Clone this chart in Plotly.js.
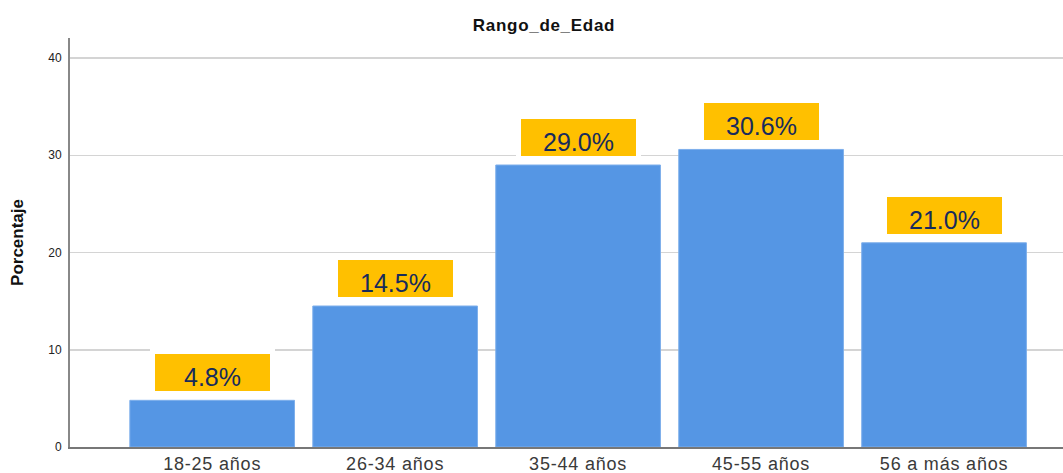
<!DOCTYPE html>
<html>
<head>
<meta charset="utf-8">
<script src="https://cdn.plot.ly/plotly-3.0.1.min.js"></script>
<style>
html,body{margin:0;padding:0;background:#fff;}
#chart{width:1063px;height:473px;}
#chart .gtitle{letter-spacing:0.7px;}
#chart .xtick text{letter-spacing:0.8px;}
</style>
</head>
<body>
<div id="chart"></div>
<script>
const categories = ["18-25 años", "26-34 años", "35-44 años", "45-55 años", "56 a más años"];
const percentages = [4.8, 14.5, 29.0, 30.6, 21.0];
const labels = ["4.8%", "14.5%", "29.0%", "30.6%", "21.0%"];
const yTicks = [0, 10, 20, 30, 40];

const trace = {
  type: "bar",
  x: categories,
  y: percentages,
  marker: { color: "#5596E4", line: { color: "#7EAFEB", width: 1 } },
  hoverinfo: "none"
};

const annotations = categories.map((c, i) => ({
  x: c, y: percentages[i], xref: "x", yref: "y",
  text: labels[i], showarrow: false,
  yanchor: "bottom", yshift: 4,
  width: 115, height: 37, valign: "bottom",
  bgcolor: "#FFC000", bordercolor: "#FFFFFF", borderwidth: 5, borderpad: 0,
  font: { family: "Liberation Sans, Arial, sans-serif", size: 25, color: "#172B5C" }
}));

const layout = {
  width: 1063, height: 473,
  margin: { l: 70, r: 0, t: 38, b: 26 },
  paper_bgcolor: "#FFFFFF", plot_bgcolor: "#FFFFFF",
  bargap: 0.1,
  showlegend: false,
  title: {
    text: "<b>Rango_de_Edad</b>",
    font: { family: "Liberation Sans, Arial, sans-serif", size: 17, color: "#111" },
    x: 544 / 1063, xref: "container", xanchor: "center",
    y: 1 - 25 / 473, yref: "container", yanchor: "middle"
  },
  xaxis: {
    range: [-0.777, 4.65],
    showline: true, linecolor: "#777", linewidth: 1.5,
    showgrid: false, ticks: "", zeroline: false, ticklabelstandoff: 0,
    tickfont: { family: "Liberation Sans, Arial, sans-serif", size: 18, color: "#3a3a3a" }
  },
  yaxis: {
    range: [0, 42.06],
    tickvals: yTicks, ticktext: yTicks.map(String),
    showline: true, linecolor: "#888", linewidth: 2,
    showgrid: true, gridcolor: "#D4D4D4", gridwidth: 1.5,
    zeroline: false, ticks: "", ticklabelstandoff: 4,
    tickfont: { family: "Liberation Sans, Arial, sans-serif", size: 12, color: "#222" },
    title: { text: "<b>Porcentaje</b>", standoff: 20,
      font: { family: "Liberation Sans Narrow, Arial Narrow, sans-serif", size: 17, color: "#111" } }
  },
  annotations: annotations
};

Plotly.newPlot("chart", [trace], layout, { staticPlot: true, displayModeBar: false });
</script>
</body>
</html>
